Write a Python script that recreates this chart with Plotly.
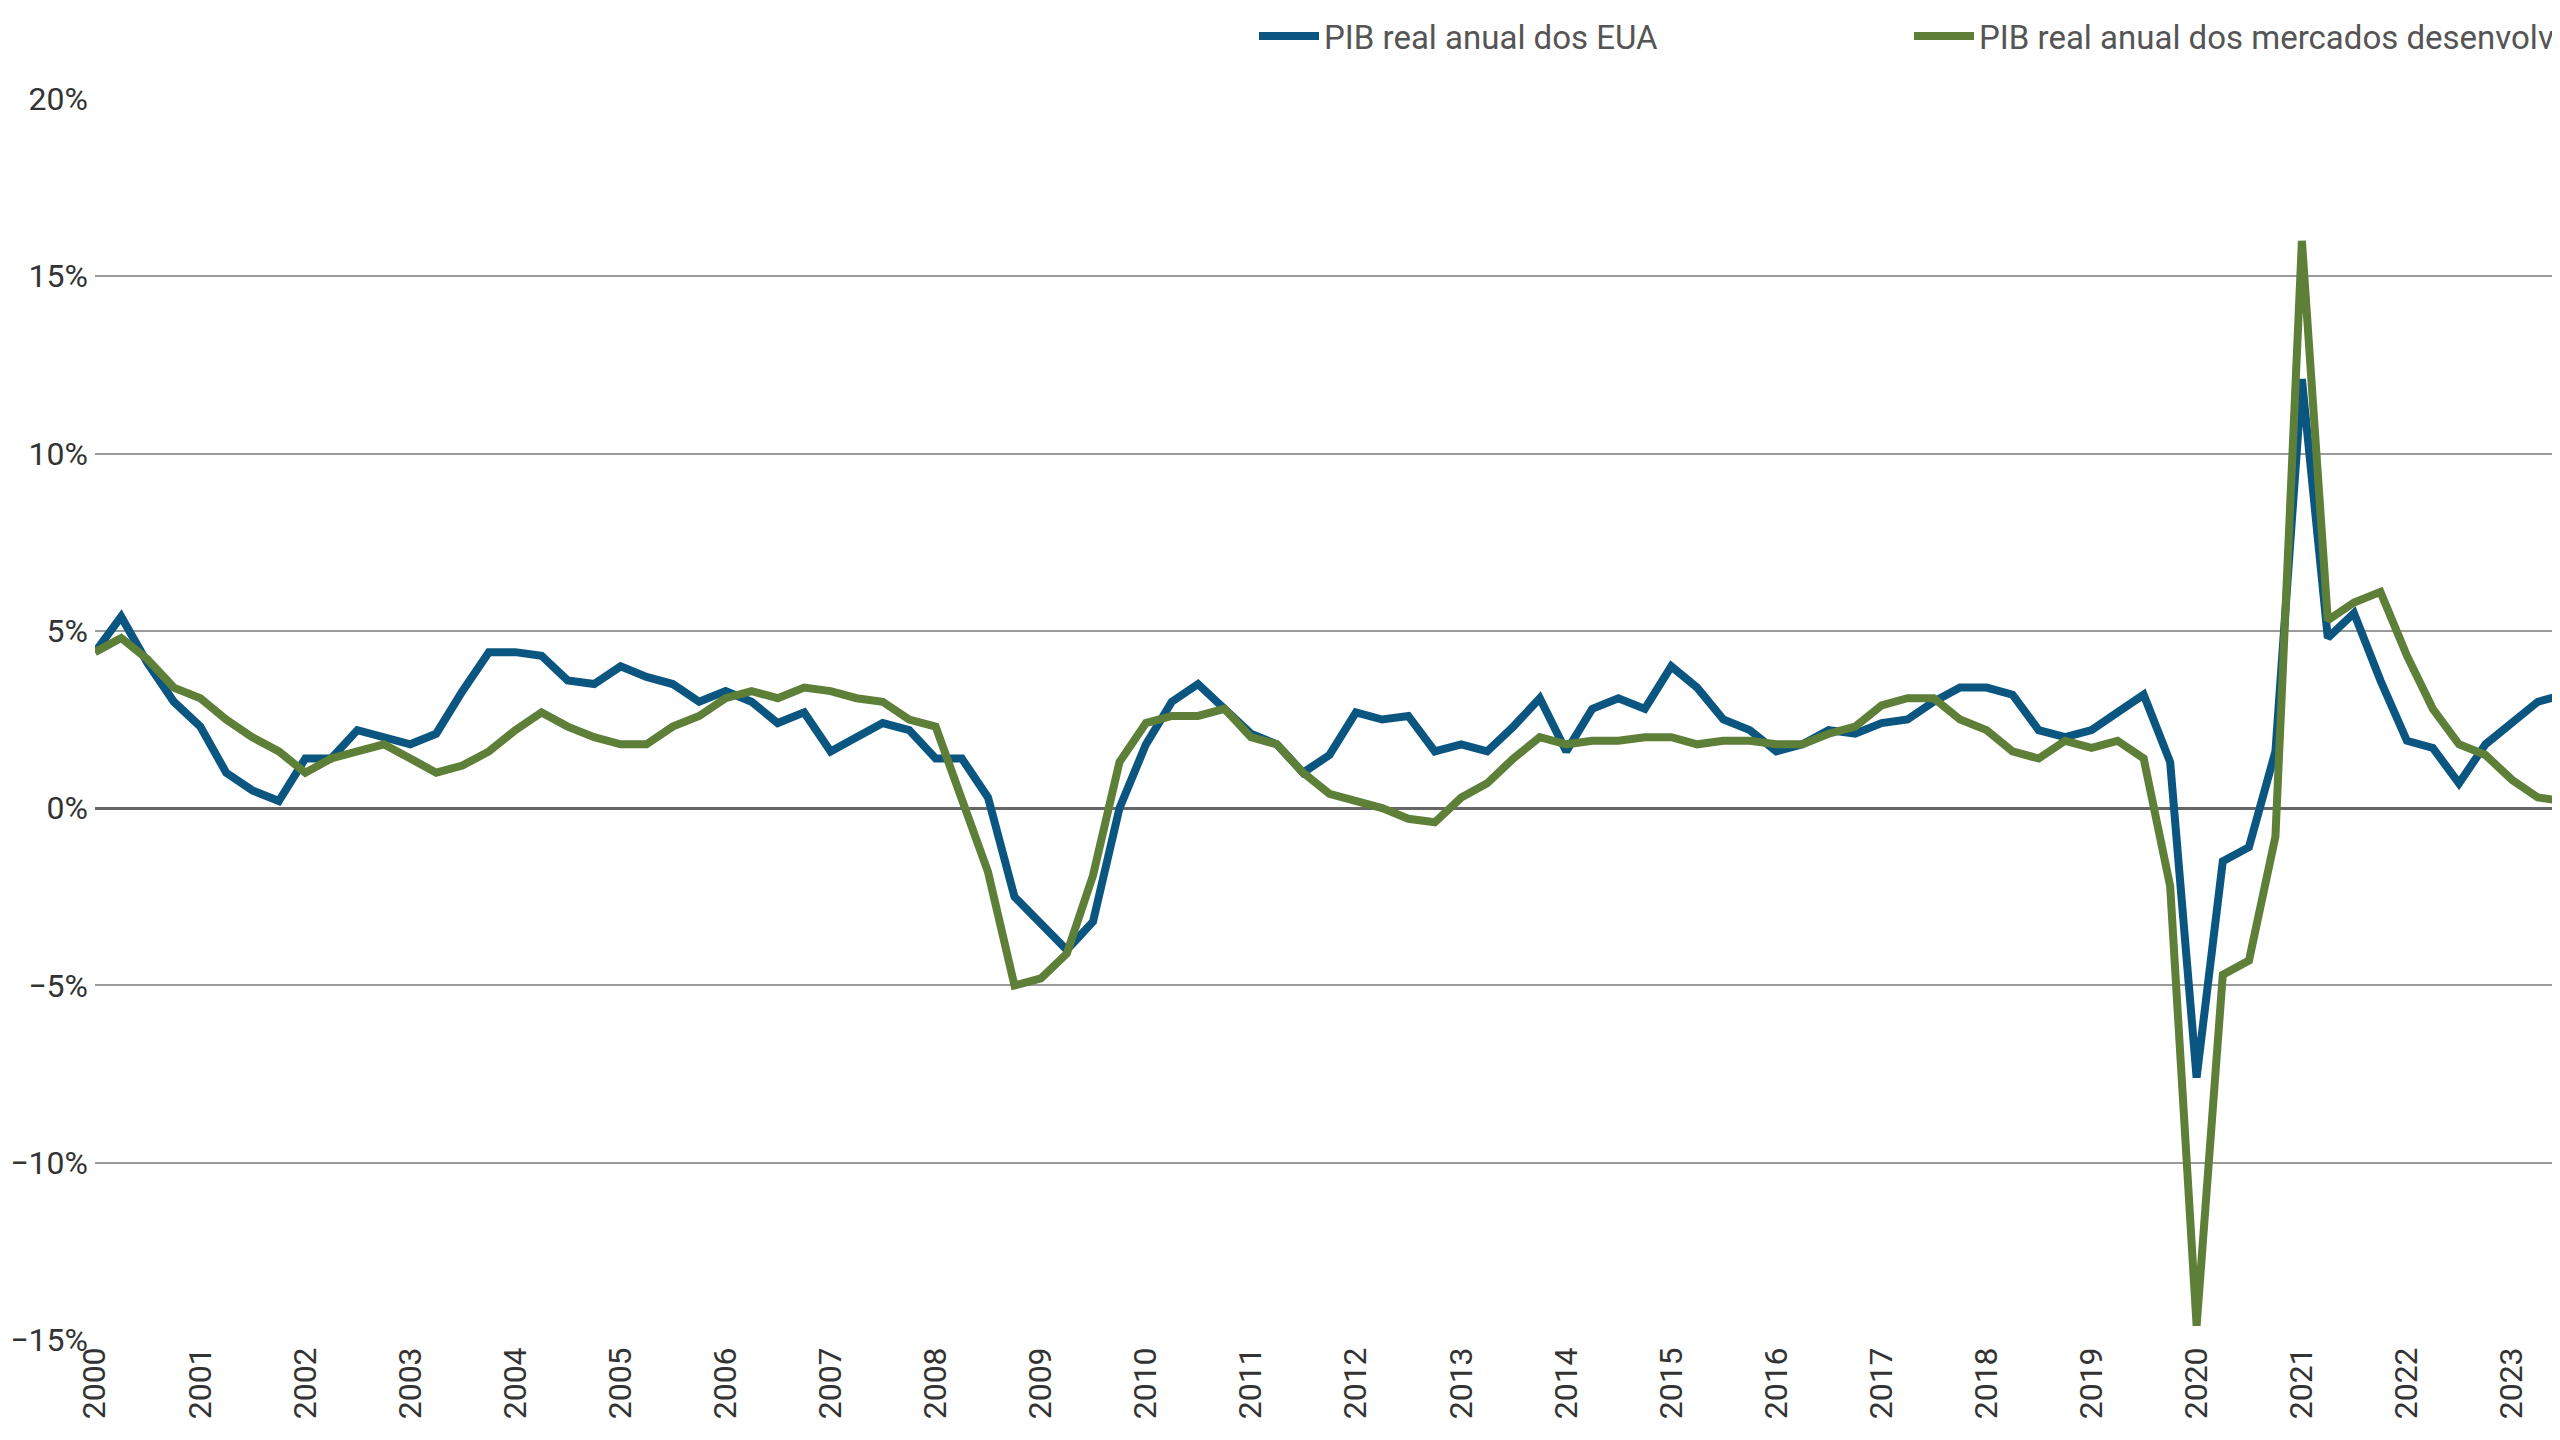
import pandas as pd
import plotly.graph_objects as go

# quarterly, 2000Q1 .. 2023Q3
quarters = pd.date_range("2000-01-01", periods=95, freq="QS")

us_gdp = [4.4, 5.4, 4.1, 3.0, 2.3, 1.0, 0.5, 0.2, 1.4, 1.4, 2.2, 2.0, 1.8, 2.1, 3.3, 4.4,
          4.4, 4.3, 3.6, 3.5, 4.0, 3.7, 3.5, 3.0, 3.3, 3.0, 2.4, 2.7, 1.6, 2.0, 2.4, 2.2,
          1.4, 1.4, 0.3, -2.5, -3.3, -4.0, -3.2, 0.0, 1.8, 3.0, 3.5, 2.8, 2.1, 1.8, 1.0, 1.5,
          2.7, 2.5, 2.6, 1.6, 1.8, 1.6, 2.3, 3.1, 1.6, 2.8, 3.1, 2.8, 4.0, 3.4, 2.5, 2.2,
          1.6, 1.8, 2.2, 2.1, 2.4, 2.5, 3.0, 3.4, 3.4, 3.2, 2.2, 2.0, 2.2, 2.7, 3.2, 1.3,
          -7.6, -1.5, -1.1, 1.6, 12.1, 4.8, 5.5, 3.6, 1.9, 1.7, 0.7, 1.8, 2.4, 3.0, 3.2]

dm_ex_us_gdp = [4.4, 4.8, 4.2, 3.4, 3.1, 2.5, 2.0, 1.6, 1.0, 1.4, 1.6, 1.8, 1.4, 1.0, 1.2, 1.6,
                2.2, 2.7, 2.3, 2.0, 1.8, 1.8, 2.3, 2.6, 3.1, 3.3, 3.1, 3.4, 3.3, 3.1, 3.0, 2.5,
                2.3, 0.3, -1.8, -5.0, -4.8, -4.1, -1.9, 1.3, 2.4, 2.6, 2.6, 2.8, 2.0, 1.8, 1.0, 0.4,
                0.2, 0.0, -0.3, -0.4, 0.3, 0.7, 1.4, 2.0, 1.8, 1.9, 1.9, 2.0, 2.0, 1.8, 1.9, 1.9,
                1.8, 1.8, 2.1, 2.3, 2.9, 3.1, 3.1, 2.5, 2.2, 1.6, 1.4, 1.9, 1.7, 1.9, 1.4, -2.2,
                -14.6, -4.7, -4.3, -0.8, 16.0, 5.3, 5.8, 6.1, 4.3, 2.8, 1.8, 1.5, 0.8, 0.3, 0.2]

fig = go.Figure()
fig.add_trace(go.Scatter(x=quarters, y=us_gdp, mode="lines", name="PIB real anual dos EUA",
                         line=dict(color="#0b5680", width=8)))
fig.add_trace(go.Scatter(x=quarters, y=dm_ex_us_gdp, mode="lines",
                         name="PIB real anual dos mercados desenvolvidos ex-EUA",
                         line=dict(color="#5e7f38", width=8)))

fig.update_layout(
    width=2560, height=1440, plot_bgcolor="white", paper_bgcolor="white",
    font=dict(family="Roboto", size=32, color="#333333"),
    margin=dict(l=87, r=4, t=91, b=108, autoexpand=False),
    legend=dict(orientation="h", x=1, xanchor="right", y=1.0, yanchor="top", yref="container",
                font=dict(size=33, color="#555555"), itemwidth=60,
                entrywidth=580, bgcolor="rgba(0,0,0,0)"),
    showlegend=True,
)
fig.update_xaxes(type="date", range=["2000-01-01", "2023-07-01"], dtick="M12", tick0="2000-01-01",
                 tickformat="%Y", tickangle=-90, showgrid=False, ticks="", zeroline=False)
fig.update_yaxes(range=[-15, 20], dtick=5, ticksuffix="%", showgrid=True, gridcolor="#9a9a9a",
                 gridwidth=1.5, zeroline=True, zerolinecolor="#666666", zerolinewidth=3,
                 ticks="", ticklabelstandoff=6)

fig.write_html("out.html")
